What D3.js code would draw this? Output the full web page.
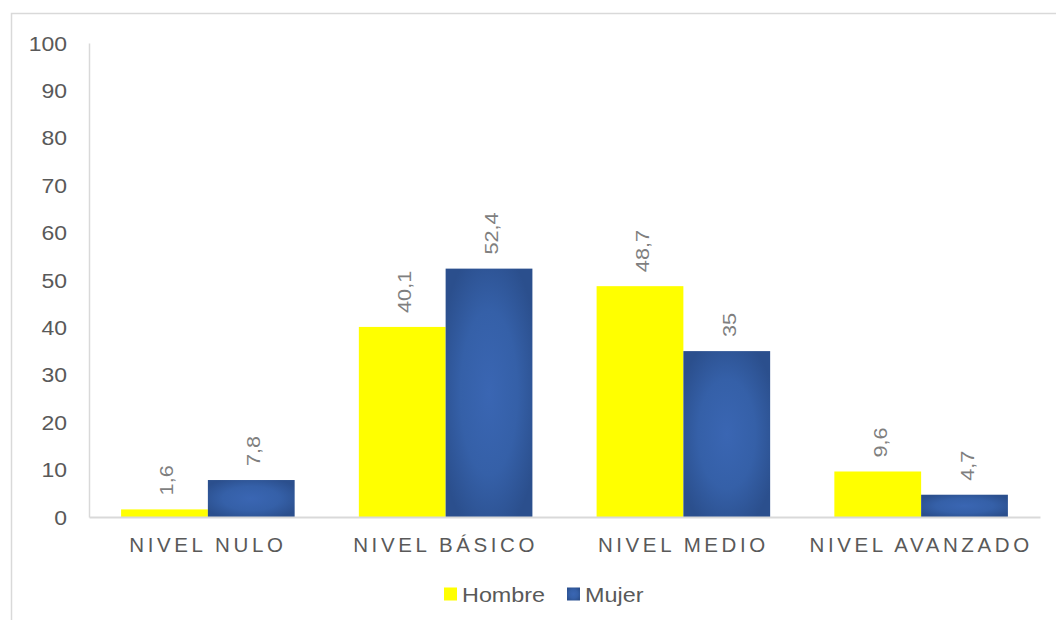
<!DOCTYPE html>
<html>
<head>
<meta charset="utf-8">
<script src="https://cdn.jsdelivr.net/npm/d3@7/dist/d3.min.js"></script>
<style>
  html, body { margin: 0; padding: 0; background: #fff; }
  svg { display: block; font-family: "Liberation Sans", Arial, sans-serif; }
</style>
</head>
<body>
<svg id="chart" width="1056" height="620"></svg>
<script>
// Data
const categories = ["NIVEL NULO", "NIVEL BÁSICO", "NIVEL MEDIO", "NIVEL AVANZADO"];
const seriesNames = ["Hombre", "Mujer"];
const hombre = [1.6, 40.1, 48.7, 9.6];
const mujer = [7.8, 52.4, 35, 4.7];
const valueLabelsHombre = ["1,6", "40,1", "48,7", "9,6"];
const valueLabelsMujer = ["7,8", "52,4", "35", "4,7"];
const yTicks = [0, 10, 20, 30, 40, 50, 60, 70, 80, 90, 100];

const svg = d3.select("#chart");
const W = 1056, H = 620;
const margin = { left: 89, right: 16, top: 43, bottom: 103 };

// Widen glyphs slightly along the text direction (wide sans look)
function widen(sel, k) {
  sel.each(function () {
    const len = this.getComputedTextLength();
    d3.select(this).attr("textLength", len * k).attr("lengthAdjust", "spacingAndGlyphs");
  });
}

// Chart frame
svg.append("rect")
  .attr("x", 11.5).attr("y", 13.5)
  .attr("width", W + 10).attr("height", H + 10)
  .attr("fill", "none").attr("stroke", "#d9d9d9").attr("stroke-width", 1.5);

// Gradient for the Mujer bars
const defs = svg.append("defs");
const grad = defs.append("radialGradient")
  .attr("id", "mujerGrad")
  .attr("cx", "50%").attr("cy", "50%").attr("r", "60%");
grad.append("stop").attr("offset", "0%").attr("stop-color", "#3a66b3");
grad.append("stop").attr("offset", "55%").attr("stop-color", "#3560a8");
grad.append("stop").attr("offset", "100%").attr("stop-color", "#2b4f8d");

const x0 = d3.scaleBand().domain(categories)
  .range([margin.left, W - margin.right]).paddingInner(0.27).paddingOuter(0.135);
const x1 = d3.scaleBand().domain(seriesNames).range([0, x0.bandwidth()]);
const y = d3.scaleLinear().domain([0, 100]).range([H - margin.bottom, margin.top]);

// Y axis
const yAxis = svg.append("g")
  .attr("transform", `translate(${margin.left},0)`)
  .call(d3.axisLeft(y).tickValues(yTicks).tickSize(0).tickPadding(0));
yAxis.select(".domain").attr("stroke", "#d9d9d9").attr("stroke-width", 1.5);
yAxis.selectAll("text")
  .attr("fill", "#595959").attr("font-size", 20.5)
  .attr("font-family", "Liberation Sans, Arial, sans-serif")
  .attr("text-anchor", "start")
  .attr("dy", "0.35em");
yAxis.selectAll("text").each(function () {
  const len = this.getComputedTextLength() * 1.12;
  d3.select(this).attr("x", -22 - len)
    .attr("textLength", len).attr("lengthAdjust", "spacingAndGlyphs");
});

// Bars
const colors = { Hombre: "#ffff00", Mujer: "url(#mujerGrad)" };
const rows = categories.map((c, i) => ({
  cat: c,
  vals: [
    { s: "Hombre", v: hombre[i], label: valueLabelsHombre[i] },
    { s: "Mujer", v: mujer[i], label: valueLabelsMujer[i] }
  ]
}));

const groups = svg.append("g").selectAll("g").data(rows).join("g")
  .attr("transform", d => `translate(${x0(d.cat)},0)`);

groups.selectAll("rect").data(d => d.vals).join("rect")
  .attr("x", d => x1(d.s))
  .attr("y", d => y(d.v))
  .attr("width", x1.bandwidth())
  .attr("height", d => y(0) - y(d.v))
  .attr("fill", d => colors[d.s]);

// Rotated value labels
groups.selectAll("text.val").data(d => d.vals).join("text")
  .attr("class", "val")
  .attr("transform", d => `translate(${x1(d.s) + x1.bandwidth() / 2 + 9},${y(d.v) - 14}) rotate(-90)`)
  .attr("text-anchor", "start")
  .attr("fill", "#7f7f7f")
  .attr("font-size", 19)
  .text(d => d.label)
  .call(widen, 1.14);

// X axis
const xAxis = svg.append("g")
  .attr("transform", `translate(0,${y(0)})`)
  .call(d3.axisBottom(x0).tickSize(0).tickPadding(0));
xAxis.select(".domain").attr("stroke", "#d9d9d9").attr("stroke-width", 2);
xAxis.selectAll("text")
  .attr("fill", "#595959").attr("font-size", 20.5)
  .attr("dy", 0).attr("y", 35)
  .attr("letter-spacing", "3.6px")
  .attr("font-family", "Liberation Sans, Arial, sans-serif");

// Legend
const legend = svg.append("g");
const legendItems = [
  { name: "Hombre", x: 444 },
  { name: "Mujer", x: 567 }
];
legendItems.forEach(it => {
  legend.append("rect")
    .attr("x", it.x).attr("y", 587.5).attr("width", 13).attr("height", 13)
    .attr("fill", colors[it.name]);
  legend.append("text")
    .attr("x", it.x + 18).attr("y", 602)
    .attr("fill", "#595959").attr("font-size", 20.5)
    .text(it.name)
    .call(widen, 1.14);
});
</script>
</body>
</html>
